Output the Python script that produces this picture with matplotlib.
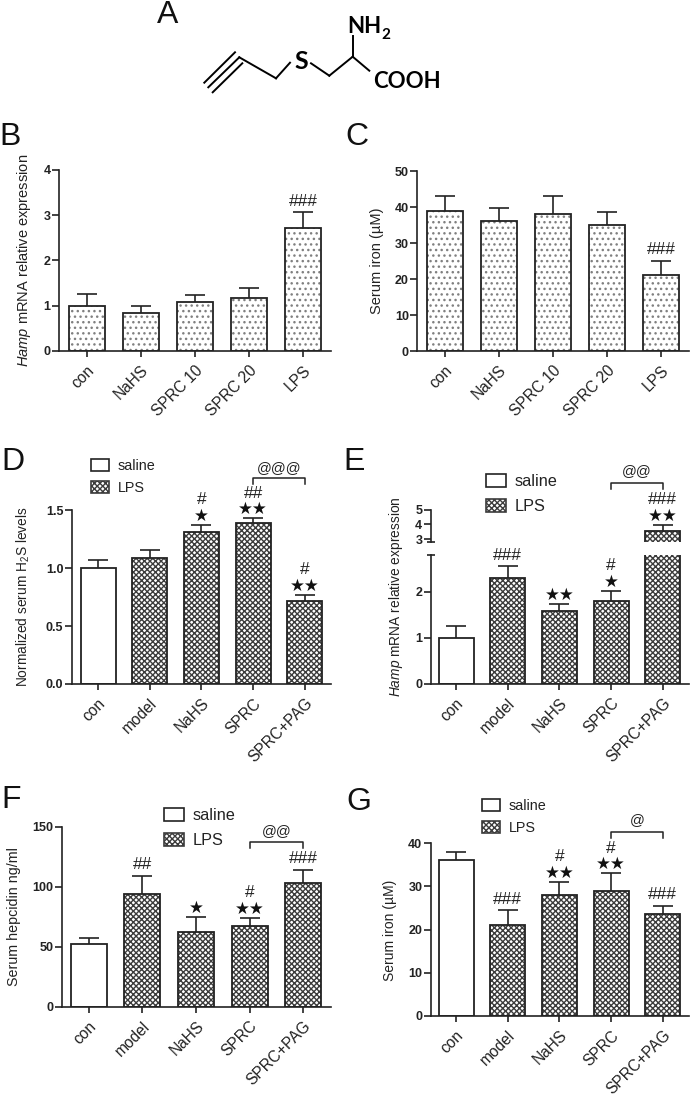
import matplotlib
matplotlib.use("Agg")
import matplotlib.pyplot as plt
from matplotlib.patches import Patch
from matplotlib.transforms import blended_transform_factory

plt.rcParams['font.family'] = ['Liberation Sans', 'DejaVu Sans']
plt.rcParams['mathtext.fontset'] = 'custom'
plt.rcParams['mathtext.rm'] = 'Liberation Sans'
plt.rcParams['mathtext.it'] = 'Liberation Sans:italic'
plt.rcParams['hatch.linewidth'] = 1.0

W, H = 690, 1098
INK = '#222222'
DENSE = 'xxxxxx'

labels_dose = ['con', 'NaHS', 'SPRC 10', 'SPRC 20', 'LPS']
labels_treat = ['con', 'model', 'NaHS', 'SPRC', 'SPRC+PAG']

b_vals = [1.0, 0.83, 1.08, 1.17, 2.72]
b_tops = [1.25, 1.0, 1.23, 1.38, 3.07]
b_hash = ['', '', '', '', '###']

c_vals = [39, 36, 38, 35, 21]
c_tops = [43, 39.8, 43, 38.5, 25]
c_hash = ['', '', '', '', '###']

d_vals = [1.0, 1.09, 1.31, 1.39, 0.72]
d_tops = [1.075, 1.16, 1.375, 1.43, 0.77]
d_hash = ['', '', '#', '##', '#']
d_star = ['', '', '★', '★★', '★★']

e_vals = [1.0, 2.3, 1.58, 1.8, 3.56]
e_tops = [1.25, 2.56, 1.73, 2.02, 3.97]
e_hash = ['', '###', '', '#', '###']
e_star = ['', '', '★★', '★', '★★']

f_vals = [52, 94, 62, 67, 103]
f_tops = [57, 109, 75, 74, 114]
f_hash = ['', '##', '', '#', '###']
f_star = ['', '', '★', '★★', '']

g_vals = [36, 21, 28, 29, 23.5]
g_tops = [38, 24.5, 31, 33, 25.5]
g_hash = ['', '###', '#', '#', '###']
g_star = ['', '', '★★', '★★', '']

fig = plt.figure(figsize=(W / 100, H / 100), dpi=100, facecolor='white')


def make_axes(left, right, y0, ytop, c0, step):
    ax = fig.add_axes([left / W, 1 - y0 / H, (right - left) / W, (y0 - ytop) / H])
    ax.set_xlim((left - c0) / step, (right - c0) / step)
    ax.patch.set_alpha(0)
    for s in ['top', 'right']:
        ax.spines[s].set_visible(False)
    for s in ['left', 'bottom']:
        ax.spines[s].set_linewidth(1.2)
        ax.spines[s].set_color(INK)
    ax.tick_params(axis='y', length=5, width=1.2, color=INK, pad=1)
    ax.tick_params(axis='x', length=4.5, width=1.2, color=INK, pad=4)
    return ax


def draw_bars(ax, vals, tops, barw, hatches, only=None):
    for i, (v, t) in enumerate(zip(vals, tops)):
        if only is not None and i not in only:
            continue
        h = hatches[i]
        if h == 'dots':
            ax.bar(i, v, barw, color='white', edgecolor='#808080', hatch='...', lw=0)
        elif h == 'dense':
            ax.bar(i, v, barw, color='white', edgecolor='#3c3c3c', hatch=DENSE, lw=0)
        ax.bar(i, v, barw, fill=False, edgecolor=INK, lw=1.3)
        ax.vlines(i, v, t, color=INK, lw=1.2)
        ax.plot(i, t, '_', color=INK, ms=14, mew=1.2)


def put_marks(ax, i, top, hash_txt, star_txt):
    hash_off = 11
    if star_txt:
        ax.annotate(star_txt, xy=(i, top), xytext=(0, 9 * 0.72), textcoords='offset points',
                    ha='center', va='center', fontsize=12, color='#111111',
                    family='DejaVu Sans', annotation_clip=False)
        hash_off = 25
    if hash_txt:
        ax.annotate(hash_txt, xy=(i, top), xytext=(0, hash_off * 0.72), textcoords='offset points',
                    ha='center', va='center', fontsize=12.5, color=INK, annotation_clip=False)


def set_ticks(ax, yticks, ylabels, xlabels):
    ax.set_yticks(yticks)
    ax.set_yticklabels(ylabels, fontsize=9, fontweight='bold', color=INK)
    ax.set_xticks(range(len(xlabels)))
    ax.set_xticklabels(xlabels, fontsize=11.2, rotation=45, ha='right', va='top',
                       rotation_mode='anchor', color=INK)


def ylab(ax, text, x, y, size=10.5):
    ax.set_ylabel(text, fontsize=size, color=INK)
    ax.yaxis.set_label_coords(x / W, 1 - y / H, transform=fig.transFigure)


def bracket(ax, i0, i1, ytop, txt, ytxt):
    tr = blended_transform_factory(ax.transData, fig.transFigure)
    yt = 1 - ytop / H
    yb = 1 - (ytop + 6) / H
    ax.plot([i0, i0, i1, i1], [yb, yt, yt, yb], color=INK, lw=1.1, transform=tr, clip_on=False)
    ax.text((i0 + i1) / 2, 1 - ytxt / H, txt, transform=tr, ha='center', va='center',
            fontsize=10.5, color=INK)


def add_legend(ax, x, y, fs, bw, bh, gap):
    handles = [Patch(facecolor='white', edgecolor=INK, lw=1.2),
               Patch(facecolor='white', edgecolor='#3c3c3c', hatch=DENSE, lw=1.2)]
    px = fs * 100 / 72
    ax.legend(handles, ['saline', 'LPS'], loc='upper left', bbox_to_anchor=(x / W, 1 - y / H),
              bbox_transform=fig.transFigure, frameon=False, fontsize=fs, borderpad=0,
              borderaxespad=0, handlelength=bw / px, handleheight=bh / px,
              labelspacing=gap / px, handletextpad=9 / px, labelcolor=INK)


dots = ['dots'] * 5
mixed = ['white'] + ['dense'] * 4

# B
ax = make_axes(59, 331, 350.7, 170, 86.7, 54.1)
ax.set_ylim(0, 4)
draw_bars(ax, b_vals, b_tops, 36 / 54.1, dots)
set_ticks(ax, [0, 1, 2, 3, 4], ['0', '1', '2', '3', '4'], labels_dose)
ylab(ax, r'$\mathit{Hamp}$ mRNA relative expression', 33, 260)
for i in range(5):
    put_marks(ax, i, b_tops[i], b_hash[i], '')

# C
ax = make_axes(417.3, 689, 351, 171, 444.7, 54.1)
ax.set_ylim(0, 50)
draw_bars(ax, c_vals, c_tops, 36 / 54.1, dots)
set_ticks(ax, [0, 10, 20, 30, 40, 50], ['0', '10', '20', '30', '40', '50'], labels_dose)
ylab(ax, 'Serum iron (µM)', 384, 261)
for i in range(5):
    put_marks(ax, i, c_tops[i], c_hash[i], '')

# D
ax = make_axes(71.7, 331, 684, 510.3, 98, 51.7)
ax.set_ylim(0, 1.5)
draw_bars(ax, d_vals, d_tops, 35 / 51.7, mixed)
set_ticks(ax, [0, 0.5, 1.0, 1.5], ['0.0', '0.5', '1.0', '1.5'], labels_treat)
ylab(ax, 'Normalized serum H$_2$S levels', 32, 597, 9.9)
for i in range(5):
    put_marks(ax, i, d_tops[i], d_hash[i], d_star[i])
add_legend(ax, 91, 459, 10.4, 18, 12, 8)
bracket(ax, 3, 4, 478, '@@@', 468)

# E, broken y axis
ax = make_axes(430.7, 689, 683.7, 555, 456, 51.7)
ax.set_ylim(0, 2.8)
draw_bars(ax, e_vals, e_tops, 35 / 51.7, mixed)
set_ticks(ax, [0, 1, 2], ['0', '1', '2'], labels_treat)
ylab(ax, r'$\mathit{Hamp}$ mRNA relative expression', 405, 597, 9.9)
for i in range(4):
    put_marks(ax, i, e_tops[i], e_hash[i], e_star[i])
add_legend(ax, 486, 474, 11.7, 20, 13, 10)
bracket(ax, 3, 4, 483.3, '@@', 471)
ax_top = make_axes(430.7, 689, 541.7, 509.7, 456, 51.7)
ax_top.set_ylim(2.82, 5)
ax_top.spines['bottom'].set_visible(False)
ax_top.set_xticks([])
ax_top.set_yticks([3, 4, 5])
ax_top.set_yticklabels(['3', '4', '5'], fontsize=9, fontweight='bold', color=INK)
draw_bars(ax_top, e_vals, e_tops, 35 / 51.7, mixed, only=[4])
put_marks(ax_top, 4, e_tops[4], e_hash[4], e_star[4])
# little caps either side of the axis break
ax.plot(0, 1, '_', transform=ax.transAxes, color=INK, ms=6, mew=1.2, clip_on=False)
ax_top.plot(0, 0, '_', transform=ax_top.transAxes, color=INK, ms=6, mew=1.2, clip_on=False)

# F
ax = make_axes(61.7, 331, 1006.7, 826.7, 88.7, 53.65)
ax.set_ylim(0, 150)
draw_bars(ax, f_vals, f_tops, 36 / 53.65, mixed)
set_ticks(ax, [0, 50, 100, 150], ['0', '50', '100', '150'], labels_treat)
ylab(ax, 'Serum hepcidin ng/ml', 21, 917, 10.3)
for i in range(5):
    put_marks(ax, i, f_tops[i], f_hash[i], f_star[i])
add_legend(ax, 164, 808, 11.7, 20, 13, 10)
bracket(ax, 3, 4, 842.3, '@@', 831)

# G
ax = make_axes(430.7, 689, 1016, 843, 456, 51.7)
ax.set_ylim(0, 40)
draw_bars(ax, g_vals, g_tops, 35 / 51.7, mixed)
set_ticks(ax, [0, 10, 20, 30, 40], ['0', '10', '20', '30', '40'], labels_treat)
ylab(ax, 'Serum iron (µM)', 397, 930, 10)
for i in range(5):
    put_marks(ax, i, g_tops[i], g_hash[i], g_star[i])
add_legend(ax, 482, 799, 10.4, 18, 12, 8)
bracket(ax, 3, 4, 831.7, '@', 820)

# panel letters
panel_x = [157, -1, 345, 1, 343, 1, 346]
panel_y = [23, 145, 145, 470, 470, 808, 810]
for name, px_, py_ in zip('ABCDEFG', panel_x, panel_y):
    fig.text(px_ / W, 1 - py_ / H, name, fontsize=23, color='#111111', va='baseline')

# structure in panel A, full figure overlay in pixel units
mol = fig.add_axes([0, 0, 1, 1])
mol.set_xlim(0, W)
mol.set_ylim(H, 0)
mol.axis('off')
bonds = [[(204.3, 82.7), (235, 52.3)], [(208.3, 87.3), (239.3, 57.3)], [(212.7, 92.3), (242.3, 63.3)],
         [(239.3, 57.3), (276, 78.3)], [(276, 78.3), (290, 62.7)], [(311, 63.3), (329.3, 75.7)],
         [(329.3, 75.7), (352.7, 56.7)], [(352.7, 56.7), (352.7, 36)], [(352.7, 56.7), (369.3, 70.7)]]
for (x0, y0), (x1, y1) in bonds:
    mol.plot([x0, x1], [y0, y1], color='black', lw=1.4)
chem_font = dict(family='Lato', fontweight='bold', color='black', va='baseline')
mol.text(347, 33.3, 'NH', fontsize=16, **chem_font)
mol.text(381.5, 39.3, '2', fontsize=11, **chem_font)
mol.text(301, 69, 'S', fontsize=18, ha='center', **chem_font)
mol.text(373, 88.3, 'COOH', fontsize=16, **chem_font)

fig.savefig('out.png', dpi=100)
